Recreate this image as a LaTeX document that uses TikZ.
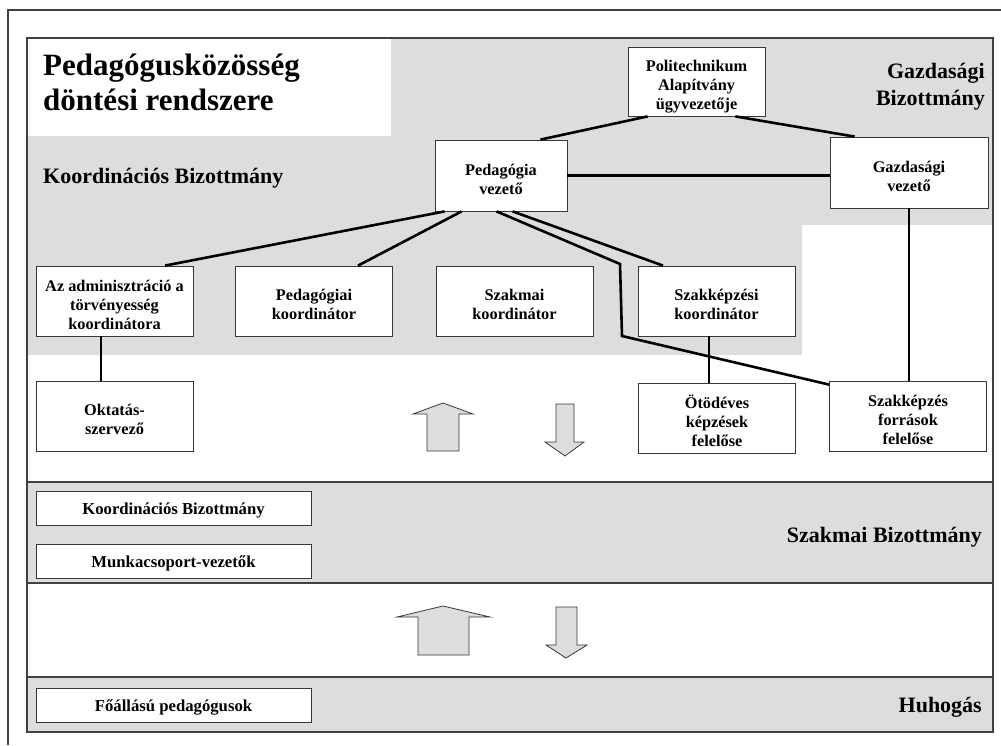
\documentclass[tikz,border=0pt]{standalone}
\usepackage{fontspec}
\setmainfont{Liberation Serif}
\usetikzlibrary{calc}

\definecolor{panel}{RGB}{220,221,223}
\definecolor{edge}{RGB}{55,55,55}
\definecolor{frameline}{RGB}{65,65,65}

% struts that put the lines of every box on the same grid
\newcommand\topgap{\rule{0pt}{22pt}}
\newcommand\botgap{\rule[-4pt]{0pt}{4pt}}

\tikzset{
  unitbox/.style={draw=edge, fill=white, line width=0.8pt, align=center, inner sep=0pt,
    font=\fontsize{16.3}{19}\bfseries\selectfont},
  wide/.style={unitbox, minimum width=157pt, minimum height=70pt},
  slim/.style={unitbox, minimum width=275pt, minimum height=34pt,
    text height=17pt, text depth=4pt,
    font=\fontsize{16.7}{19}\bfseries\selectfont},
  link/.style={line width=2.6pt, black},
  flow/.style={draw=edge, fill=panel, line width=0.8pt, line join=miter},
  bandlabel/.style={inner sep=0pt, font=\fontsize{22}{27}\bfseries\selectfont},
}

\begin{document}
\begin{tikzpicture}[x=1pt,y=-1pt]
\useasboundingbox (0,0) rectangle (1001,745);

% shaded committee areas
\fill[panel] (27,38) -- (993,38) -- (993,225) -- (802,225) -- (802,355) -- (27,355) -- cycle;
\fill[white] (28,38) rectangle (391,136);
\fill[panel] (27,482) rectangle (993,583);
\fill[panel] (27,677) rectangle (993,732);
\draw[frameline, line width=1.2pt] (27,482) -- (993,482) (27,583) -- (993,583) (27,677) -- (993,677);
\draw[frameline, line width=1.5pt] (27,38) rectangle (993,732);
\draw[frameline, line width=2.2pt] (27,732) -- (993,732);
\draw[frameline, line width=1.1pt] (8,745) -- (8,10) -- (1001,10);

% titles of the areas
\node[bandlabel, anchor=north west, align=left, font=\fontsize{31}{35}\bfseries\selectfont] (title) at (43,53.5)
  {Pedagógusközösség\\döntési rendszere};
\node[bandlabel, anchor=base west] (kblabel) at (43,183) {Koordinációs Bizottmány};
\node[bandlabel, anchor=east, align=right] (gblabel) at (985,86.5) {Gazdasági\\Bizottmány};
\node[bandlabel, anchor=base east] (sblabel) at (982,542) {Szakmai Bizottmány};
\node[bandlabel, anchor=base east] (hlabel) at (982,712) {Huhogás};

% leadership
\node[unitbox, minimum width=137pt, minimum height=69pt] (polit) at (696.5,81.5)
  {\topgap Politechnikum\\Alapítvány\\ügyvezetője\botgap};
\node[unitbox, minimum width=132pt, minimum height=71pt] (pedv) at (501,175.5)
  {\topgap Pedagógia\\vezető\botgap};
\node[unitbox, minimum width=158pt, minimum height=71pt] (gazv) at (909,172.5)
  {\topgap Gazdasági\\vezető\botgap};

% coordinators
\node[wide] (admin) at (114.5,301) {\topgap Az adminisztráció a\\törvényesség\\koordinátora\botgap};
\node[wide] (pedk) at (314,301) {\topgap Pedagógiai\\koordinátor\botgap};
\node[wide] (szakm) at (514.5,301) {\topgap Szakmai\\koordinátor\botgap};
\node[wide] (szakk) at (716.5,301) {\topgap Szakképzési\\koordinátor\botgap};

% responsible persons
\node[wide] (okt) at (114.5,416) {\topgap Oktatás-\\szervező\botgap};
\node[wide] (otod) at (717,418) {\topgap Ötödéves\\képzések\\felelőse\botgap};
\node[wide] (forr) at (908,416) {\topgap Szakképzés\\források\\felelőse\botgap};

% lower committees
\node[slim] (kb) at (173.5,508) {Koordinációs Bizottmány};
\node[slim] (mcs) at (173.5,561) {Munkacsoport-vezetők};
\node[slim] (fop) at (173.5,705) {Főállású pedagógusok};

% connections
\draw[link] ([xshift=20pt]polit.south west) -- ([xshift=-27pt]pedv.north east);
\draw[link] ([xshift=-30pt]polit.south east) -- ([xshift=25pt]gazv.north west);
\draw[link] (pedv.east) -- (pedv.east -| gazv.west);
\draw[link] ([xshift=10pt]pedv.south west) -- ([xshift=50.5pt]admin.north);
\draw[link] ([xshift=27pt]pedv.south west) -- ([xshift=44pt]pedk.north);
\draw[link] ([xshift=78pt]pedv.south west) -- ([xshift=-53.5pt]szakk.north);
\coordinate (bendA) at (620,264);
\coordinate (bendB) at (622,336);
\draw[link, line join=miter] ([xshift=62pt]pedv.south west) -- (bendA) -- (bendB) -- ([yshift=-4pt]forr.north west);
\draw[link] (gazv.south) -- (gazv.south |- forr.north);
\draw[link] ([xshift=-7.5pt]szakk.south) -- ([xshift=-7.5pt]szakk.south |- otod.north);
\draw[link] ([xshift=-13.5pt]admin.south) -- ([xshift=-13.5pt]admin.south |- okt.north);

% information flow arrows
\draw[flow] (443,403) -- (473,414) -- (459,414) -- (459,451) -- (427,451) -- (427,414) -- (413,414) -- cycle;
\draw[flow] (556,404) -- (574,404) -- (574,442) -- (584,442) -- (565,456) -- (545,442) -- (556,442) -- cycle;
\draw[flow] (443,606) -- (490,617) -- (469,617) -- (469,655) -- (418,655) -- (418,617) -- (397,617) -- cycle;
\draw[flow] (556,607) -- (577,607) -- (577,645) -- (587,645) -- (566,658) -- (546,645) -- (556,645) -- cycle;
\end{tikzpicture}
\end{document}
